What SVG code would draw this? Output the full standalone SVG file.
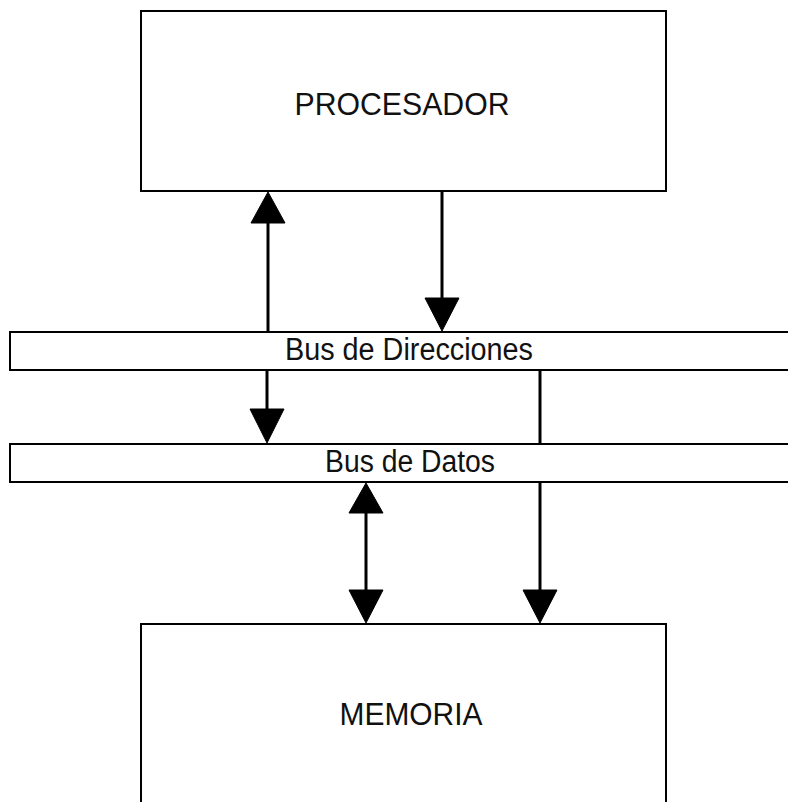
<svg xmlns="http://www.w3.org/2000/svg" width="788" height="802" viewBox="0 0 788 802">
<style>
.box{fill:#fff;stroke:#000;stroke-width:2}
.lbl{font-family:"Liberation Sans",Arial,sans-serif;font-size:31px;fill:#111;text-anchor:middle}
.shaft{stroke:#000;stroke-width:3;fill:none}
.head{fill:#000;stroke:#000;stroke-width:1}
</style>
<rect width="788" height="802" fill="#fff"/>
<g id="procesador">
<rect class="box" x="141" y="11" width="525" height="180"/>
<text class="lbl" x="402" y="115" textLength="215" lengthAdjust="spacingAndGlyphs">PROCESADOR</text>
</g>
<g id="bus-direcciones">
<rect class="box" x="10" y="332" width="790" height="38"/>
<text class="lbl" x="409" y="360" textLength="248" lengthAdjust="spacingAndGlyphs">Bus de Direcciones</text>
</g>
<g id="bus-datos">
<rect class="box" x="10" y="444" width="790" height="38"/>
<text class="lbl" x="410" y="472" textLength="170" lengthAdjust="spacingAndGlyphs">Bus de Datos</text>
</g>
<g id="memoria">
<rect class="box" x="141" y="624" width="525" height="200"/>
<text class="lbl" x="411" y="725" textLength="143" lengthAdjust="spacingAndGlyphs">MEMORIA</text>
</g>
<g id="connectors">
<line class="shaft" x1="268" y1="220" x2="268" y2="331"/>
<polygon class="head" points="268,192 251,223 285,223"/>
<line class="shaft" x1="442" y1="192" x2="442" y2="300"/>
<polygon class="head" points="425,298 459,298 442,331"/>
<line class="shaft" x1="267" y1="371" x2="267" y2="412"/>
<polygon class="head" points="250,409 284,409 267,443"/>
<line class="shaft" x1="540" y1="371" x2="540" y2="443"/>
<line class="shaft" x1="540" y1="483" x2="540" y2="593"/>
<polygon class="head" points="523,590 557,590 540,623"/>
<line class="shaft" x1="366" y1="510" x2="366" y2="593"/>
<polygon class="head" points="366,483 349,513 383,513"/>
<polygon class="head" points="349,590 383,590 366,623"/>
</g>
</svg>
